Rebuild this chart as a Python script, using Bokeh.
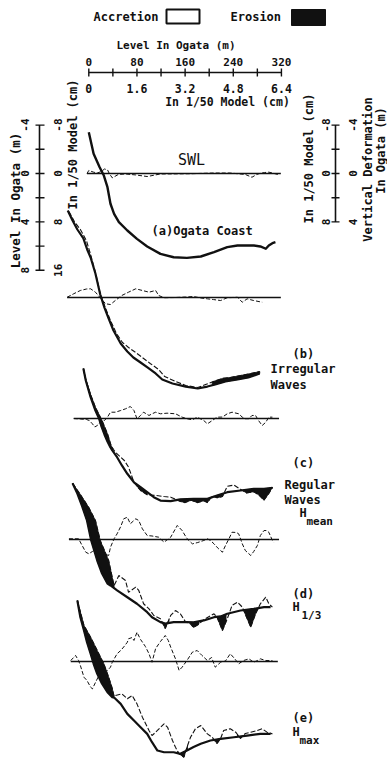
import numpy as np
from bokeh.plotting import figure
from bokeh.models import Range1d
from bokeh.embed import file_html
from bokeh.resources import INLINE
from bokeh.core.properties import value

# ---------------- scale labels ----------------
dist_ticks = [0, 40, 80, 120, 160, 200, 240, 280, 320]          # m in Ogata
dist_label_pos = [0, 80, 160, 240, 320]
dist_labels = ["0", "80", "160", "240", "320"]
dist_model_labels = ["0", "1.6", "3.2", "4.8", "6.4"]           # cm in 1/50 model
level_ticks = [-4, -2, 0, 2, 4, 6, 8]
level_label_pos = [-4, 0, 4, 8]
level_labels = ["-4", "0", "4", "8"]
level_model_labels = ["-8", "0", "8", "16"]
def_ticks = [-4, -2, 0, 2, 4]
def_label_pos = [-4, 0, 4]
def_labels = ["-4", "0", "4"]
def_model_labels = ["-8", "0", "8"]

# ---------------- (a) Ogata coast ----------------
a_x = [0, 8, 18, 25, 31, 36, 42, 50, 64, 80, 97, 119, 141, 163, 186, 208, 230, 247, 274, 285, 294, 299, 305, 310]
a_level = [-3.4, -1.63, -0.52, 0.17, 1.13, 2.50, 3.33, 4.02, 4.71, 5.40, 6.03, 6.64, 6.92, 6.97, 6.86, 6.50,
           6.09, 5.95, 5.95, 6.03, 6.22, 5.95, 5.76, 5.68]
a_def_x = [-3, 0, 8, 14, 21, 26, 31, 34, 39, 43, 49, 61, 78, 97, 119, 169, 207, 235, 260, 271, 279, 285, 292, 299, 305, 316]
a_def = [0, -0.25, -0.11, -0.04, -0.17, -0.37, -0.31, 0, 0.36, 0.25, 0.08, 0.04, 0.12, 0.25, 0.04, 0.02,
         -0.04, -0.04, 0.08, 0.31, 0.08, -0.02, -0.08, -0.11, -0.04, 0.11]
a_base = (-3, 319)

# ---------------- (b) irregular waves ----------------
b_field_x = [-35, -27, -19, -9, -2, 3, 11, 19, 26, 33, 41, 53, 64, 74, 86, 98, 111, 122, 139, 161, 181, 197, 210, 227, 247, 265, 284]
b_field = [-7.19, -6.36, -5.62, -4.88, -3.88, -3.31, -1.98, -0.25, 0.83, 1.74, 2.73, 3.80, 4.46, 4.96, 5.37, 5.79,
           6.28, 6.78, 7.11, 7.36, 7.52, 7.36, 7.19, 6.94, 6.78, 6.61, 6.28]
b_model_x = [-33, -24, -14, -4, 3, 11, 19, 28, 36, 46, 56, 66, 78, 89, 102, 116, 126, 144, 161, 181, 194, 207, 222, 235, 252, 269, 284]
b_model = [-7.11, -6.28, -5.62, -4.71, -3.55, -2.07, -0.33, 0.91, 1.90, 2.98, 3.72, 4.13, 4.55, 4.96, 5.45, 5.95,
           6.53, 6.94, 7.27, 7.44, 7.19, 6.94, 6.69, 6.61, 6.45, 6.28, 6.12]
b_def_x = [-36, -25, -14, -4, 3, 11, 19, 28, 36, 44, 55, 66, 78, 89, 100, 111, 116, 125, 144, 161, 174, 186, 197,
           207, 219, 230, 247, 255, 263, 274, 288]
b_def = [-0.02, -0.31, -0.58, -0.70, -0.72, -0.44, 0.02, 0.52, 0.58, 0.25, -0.17, -0.44, -0.72, -0.58, -0.44,
         -0.58, -0.17, 0.02, 0, -0.04, -0.08, 0.04, 0.11, 0.17, 0.25, 0.02, -0.02, 0.39, 0.11, 0.25, 0.39]
b_erosion = [(205, 284)]
b_base = (-36, 319)

# ---------------- (c) regular waves, H mean ----------------
c_field_x = [-9, -5, 3, 11, 17, 21, 26, 31, 36, 39, 47, 55, 64, 75, 86, 97, 108, 119, 136, 152, 174, 197, 213, 230, 252, 274, 291, 305]
c_field = [-4.13, -3.14, -1.76, -0.66, 0, 0.66, 1.32, 1.90, 2.40, 2.64, 3.20, 3.88, 4.57, 5.27, 5.68, 6.09, 6.50,
           6.78, 6.83, 6.69, 6.64, 6.64, 6.36, 6.09, 5.95, 5.81, 5.81, 5.73]
c_model_x = [-9, -5, 3, 11, 22, 31, 37, 41, 44, 53, 59, 66, 71, 75, 86, 97, 111, 125, 136, 152, 160, 170, 180, 191,
             197, 205, 213, 222, 230, 241, 252, 262, 274, 282, 291, 299, 305]
c_model = [-4.13, -3.22, -1.98, -0.93, 0.17, 1.26, 2.23, 2.56, 2.78, 3.20, 3.47, 4.02, 4.71, 5.29, 5.95, 6.30,
           6.36, 6.45, 6.50, 6.85, 6.95, 6.75, 6.95, 6.80, 6.95, 6.40, 6.55, 6.45, 5.60, 5.50, 5.85, 6.15, 6.05,
           6.30, 6.75, 6.20, 5.68]
c_def_x = [-25, -14, -4, 1, 6, 10, 14, 17, 21, 26, 31, 36, 44, 53, 61, 69, 75, 80, 86, 91, 100, 106, 111, 119,
           130, 144, 155, 163, 172, 180, 191, 197, 205, 213, 222, 230, 238, 249, 255, 260, 266, 271, 277, 282,
           288, 294, 299, 305]
c_def = [0, 0.04, 0.08, 0.17, 0.44, 0.70, 0.58, 0.44, 0.17, 0.17, -0.11, -0.52, -0.52, -0.66, -0.80, -0.99,
         -0.66, 0.02, -0.25, -0.52, -0.25, -0.41, -0.52, -0.39, -0.44, -0.39, -0.11, 0.02, 0.11, -0.11, 0.17,
         0.44, 0.17, -0.11, -0.12, -0.39, -0.52, -0.39, -0.11, 0.02, 0.02, -0.25, -0.25, 0.17, 0.58, 0.31,
         -0.11, -0.11]
c_erosion = [(-9, 40), (80, 97), (150, 200), (208, 224), (256, 305)]
c_base = (-25, 316)

# ---------------- (d) H 1/3 ----------------
d_field_x = [-27, -19, -11, -3, 4, 14, 22, 31, 36, 47, 64, 80, 97, 105, 119, 127, 141, 163, 174, 191, 208, 219, 230, 252, 274, 291, 302]
d_field = [-4.65, -3.80, -2.73, -1.57, 0.08, 1.74, 2.81, 3.64, 3.80, 4.21, 4.77, 5.31, 6.01, 6.42, 6.83, 6.95,
           6.83, 6.83, 6.85, 6.69, 6.42, 6.36, 6.14, 5.87, 5.73, 5.59, 5.59]
d_model_x = [-27, -14, 0, 11, 19, 33, 39, 42, 50, 61, 66, 78, 83, 91, 100, 108, 119, 127, 136, 144, 152, 161, 169,
             174, 182, 191, 208, 213, 222, 230, 238, 247, 255, 269, 277, 285, 294, 299, 305]
d_model = [-4.65, -3.72, -2.64, -1.57, 0.08, 1.74, 3.14, 3.80, 2.98, 3.39, 4.36, 3.94, 4.21, 5.31, 5.73, 6.28,
           6.55, 7.35, 6.28, 5.87, 6.14, 6.83, 6.97, 7.27, 7.02, 6.63, 6.14, 6.42, 7.52, 6.55, 5.45, 5.18, 5.59,
           7.24, 6.14, 5.31, 4.77, 5.31, 5.59]
d_def_x = [-33, -17, -11, -5, 0, 6, 13, 21, 28, 33, 36, 42, 47, 53, 58, 64, 69, 78, 83, 89, 97, 105, 116, 125,
           136, 147, 155, 163, 172, 181, 191, 197, 202, 208, 215, 222, 227, 233, 238, 245, 249, 255, 260, 269,
           274, 280, 285, 291, 295, 299, 305, 307]
d_def = [-0.06, -0.06, 0.50, 1.05, 1.18, 0.99, 0.83, 0.99, 1.24, 1.32, 0.64, -0.06, -0.47, -1.07, -1.71, -1.84,
         -1.30, -1.71, -1.57, -0.88, -0.33, -0.29, -0.19, 0.22, -0.19, -1.16, -0.74, -0.08, 0.36, 0.25, 0.08,
         -0.06, 0.08, 0.36, 0.74, 1.05, 0.50, -0.08, -0.60, -0.58, -0.47, 0.36, 0.91, 1.32, 0.99, 0.50, -0.33,
         -0.74, -0.74, -0.60, 0.08, 0.22]
d_erosion = [(-27, 42), (122, 133), (169, 183), (212, 228), (258, 281)]
d_base = (-33, 316)

# ---------------- (e) H max ----------------
e_field_x = [-19, -14, -8, -3, 3, 8, 14, 22, 31, 39, 42, 53, 64, 75, 86, 97, 105, 114, 125, 141, 152, 163, 174,
             186, 202, 219, 241, 263, 285, 302]
e_field = [-5.04, -3.66, -2.56, -1.60, -0.64, 0.19, 1.02, 1.84, 2.54, 2.95, 2.98, 3.50, 4.33, 4.88, 5.43, 5.98,
           6.67, 7.36, 7.50, 7.50, 7.63, 7.36, 7.07, 6.80, 6.53, 6.39, 6.26, 6.12, 5.98, 5.98]
e_model_x = [-19, -8, 3, 14, 25, 33, 39, 42, 44, 55, 64, 72, 80, 89, 100, 105, 114, 125, 131, 139, 144, 150, 158,
             163, 169, 177, 186, 197, 205, 213, 219, 224, 235, 244, 252, 260, 269, 280, 288, 296, 305]
e_model = [-5.04, -2.98, -2.01, -0.91, 0.19, 1.30, 2.23, 2.89, 2.81, 2.67, 3.08, 2.81, 3.50, 4.60, 5.70, 6.12,
           5.70, 5.15, 5.45, 6.53, 7.09, 7.63, 7.91, 7.09, 6.26, 5.57, 5.29, 5.98, 6.26, 6.78, 6.36, 5.70, 5.56,
           5.84, 6.36, 5.95, 5.84, 5.70, 5.56, 5.84, 5.98]
e_def_x = [-30, -22, -17, -14, -8, -3, 3, 6, 11, 16, 23, 31, 36, 39, 47, 53, 58, 64, 66, 72, 75, 80, 86, 94, 100,
           105, 111, 119, 127, 132, 136, 144, 150, 155, 163, 172, 180, 188, 197, 204, 210, 219, 227, 235, 242,
           249, 257, 266, 274, 280, 285, 294, 305]
e_def = [-0.08, -0.50, -0.08, 0.33, 1.30, 1.57, 2.12, 2.26, 1.74, 1.24, 0.91, 0.74, 0.47, 0.06, -0.64, -0.91,
         -1.20, -1.59, -1.88, -1.98, -1.74, -2.42, -1.82, -1.24, -0.64, 0.06, -1.07, -1.65, -2.15, -1.74, -1.19,
         -0.22, 0.74, 0.47, -0.08, -0.77, -0.91, -0.50, -0.08, -0.33, 0.47, 0.06, -0.04, -0.64, -0.25, 0.19,
         -0.08, -0.22, 0.06, -0.08, -0.22, -0.08, -0.08]
e_erosion = [(-19, 42), (148, 164), (208, 219), (247, 257)]
e_base = (-30, 314)

# ---------------- layout (page pixels -> data units) ----------------
W, H = 387, 758
X0, SX = 88.3, 0.602     # px of distance 0, px per metre
Y0, SY = 173.0, 12.1     # px of SWL, px per metre


def lx(X):
    return (X - X0) / SX


def ly(Y):
    return (Y - Y0) / SY


FONT = value("DejaVu Sans Mono")
INK = "#111111"

p = figure(width=W, height=H, output_backend="svg", toolbar_location=None,
           x_range=Range1d(lx(0), lx(W)), y_range=Range1d(ly(H), ly(0)),
           x_axis_location=None, y_axis_location=None, min_border=0)
p.grid.visible = False
p.outline_line_color = None
p.background_fill_color = "white"
p.border_fill_color = "white"


def txt(x, y, s, size, angle=0.0, align="left", style="bold"):
    xs = x if isinstance(x, (list, tuple)) else [x]
    ys = y if isinstance(y, (list, tuple)) else [y] * len(xs)
    ss = s if isinstance(s, (list, tuple)) else [s]
    p.text(x=xs, y=ys, text=ss, angle=angle, text_font=FONT, text_font_size=value(f"{size}px"),
           text_font_style=style, text_align=align, text_baseline="middle", text_color=INK)


def trimmed(xs, ys):
    n = min(len(xs), len(ys))
    return list(xs[:n]), list(ys[:n])


# ---------------- legend ----------------
txt(lx(93), ly(16), "Accretion", 12)
p.quad(left=[lx(166)], right=[lx(199)], top=[ly(9)], bottom=[ly(23)],
       fill_color="white", line_color=INK, line_width=2)
txt(lx(230), ly(16), "Erosion", 12)
p.quad(left=[lx(291)], right=[lx(325)], top=[ly(9)], bottom=[ly(25)],
       fill_color=INK, line_color=INK, line_width=1)

# ---------------- horizontal scale bar ----------------
yb = ly(72)
p.segment(x0=[dist_ticks[0]], y0=[yb], x1=[dist_ticks[-1]], y1=[yb], line_color=INK, line_width=1.6)
p.segment(x0=dist_ticks, y0=[ly(68)] * len(dist_ticks), x1=dist_ticks, y1=[ly(76)] * len(dist_ticks),
          line_color=INK, line_width=1.4)
txt(dist_label_pos, ly(61), dist_labels, 11, align="center")
txt(dist_label_pos, ly(88), dist_model_labels, 11.5, align="center")
txt(lx(175.5), ly(45), "Level In Ogata (m)", 11, align="center")
txt(lx(227), ly(101), "In 1/50 Model (cm)", 11.5, align="center")

# ---------------- left vertical scale bar ----------------
xl = lx(39)
p.segment(x0=[xl], y0=[level_ticks[0]], x1=[xl], y1=[level_ticks[-1]], line_color=INK, line_width=1.6)
p.segment(x0=[lx(35)] * len(level_ticks), y0=level_ticks, x1=[lx(44)] * len(level_ticks), y1=level_ticks,
          line_color=INK, line_width=1.4)
txt([lx(24)] * 4, level_label_pos, level_labels, 11, angle=np.pi / 2, align="center")
txt([lx(57)] * 4, level_label_pos, level_model_labels, 11, angle=np.pi / 2, align="center")
txt(lx(15), ly(200), "Level In Ogata (m)", 12.5, angle=np.pi / 2, align="center")
txt(lx(72), ly(144), "In 1/50 Model (cm)", 12, angle=np.pi / 2, align="center")

# ---------------- right vertical scale bar ----------------
xr = lx(335)
p.segment(x0=[xr], y0=[def_ticks[0]], x1=[xr], y1=[def_ticks[-1]], line_color=INK, line_width=1.6)
p.segment(x0=[lx(331)] * len(def_ticks), y0=def_ticks, x1=[lx(339)] * len(def_ticks), y1=def_ticks,
          line_color=INK, line_width=1.4)
txt([lx(325)] * 3, def_label_pos, def_model_labels, 11, angle=np.pi / 2, align="center")
txt([lx(352)] * 3, def_label_pos, def_labels, 11, angle=np.pi / 2, align="center")
txt(lx(308), ly(158), "In 1/50 Model (cm)", 12, angle=np.pi / 2, align="center")
txt(lx(367), ly(169), "Vertical Deformation", 12, angle=np.pi / 2, align="center")
txt(lx(380), ly(150), "In Ogata (m)", 12, angle=np.pi / 2, align="center")

# ---------------- profiles ----------------
base_px = [173, 297, 418, 539, 661]   # vertical placement of each panel's zero line
offs = [ly(b) for b in base_px]


def draw_base(off, ext):
    p.segment(x0=[ext[0]], y0=[off], x1=[ext[1]], y1=[off], line_color=INK, line_width=1.6)


def draw_def(off, dx, dv):
    xs, ys = trimmed(dx, dv)
    p.line(xs, [off + v for v in ys], line_color=INK, line_width=1, line_dash="4 2")


def draw_erosion(off, fx, fy, mx, my, intervals):
    fx, fy = trimmed(fx, fy)
    mx, my = trimmed(mx, my)
    pxs, pys = [], []
    for a, b in intervals:
        g = np.array(sorted(set([a, b] + [v for v in fx + mx if a < v < b])), dtype=float)
        f = np.interp(g, fx, fy) + off
        m = np.interp(g, mx, my) + off
        pxs.append(list(g) + list(g[::-1]))
        pys.append(list(f) + list(m[::-1]))
    p.patches(pxs, pys, fill_color=INK, line_color=INK, line_width=0.8)


# (a)
draw_base(offs[0], a_base)
draw_def(offs[0], a_def_x, a_def)
xs, ys = trimmed(a_x, a_level)
p.line(xs, [offs[0] + v for v in ys], line_color=INK, line_width=2.4, line_join="round")

panels = [
    (offs[1], b_base, b_def_x, b_def, b_field_x, b_field, b_model_x, b_model, b_erosion),
    (offs[2], c_base, c_def_x, c_def, c_field_x, c_field, c_model_x, c_model, c_erosion),
    (offs[3], d_base, d_def_x, d_def, d_field_x, d_field, d_model_x, d_model, d_erosion),
    (offs[4], e_base, e_def_x, e_def, e_field_x, e_field, e_model_x, e_model, e_erosion),
]
for off, ext, dx, dv, fx, fy, mx, my, ero in panels:
    draw_base(off, ext)
    draw_def(off, dx, dv)
    draw_erosion(off, fx, fy, mx, my, ero)
    xs, ys = trimmed(mx, my)
    p.line(xs, [off + v for v in ys], line_color=INK, line_width=1.1, line_dash="5 2")
    xs, ys = trimmed(fx, fy)
    p.line(xs, [off + v for v in ys], line_color=INK, line_width=2.2, line_join="round")

# ---------------- panel labels ----------------
txt(lx(191), ly(159), "SWL", 15, align="center", style="normal")
txt(lx(151), ly(230), "(a)Ogata Coast", 12)
txt(lx(292), ly(353), "(b)", 12)
txt(lx(270), ly(368), "Irregular", 12)
txt(lx(270), ly(384), "Waves", 12)
txt(lx(292), ly(462), "(c)", 12)
txt(lx(284), ly(484), "Regular", 12)
txt(lx(284), ly(499), "Waves", 12)
txt(lx(299), ly(512), "H", 12)
txt(lx(306), ly(521), "mean", 11)
txt(lx(292), ly(593), "(d)", 12)
txt(lx(292), ly(606), "H", 12)
txt(lx(301), ly(615), "1/3", 11)
txt(lx(292), ly(717), "(e)", 12)
txt(lx(292), ly(731), "H", 12)
txt(lx(299), ly(740), "max", 11)

open("out.html", "w").write(file_html(p, INLINE))
